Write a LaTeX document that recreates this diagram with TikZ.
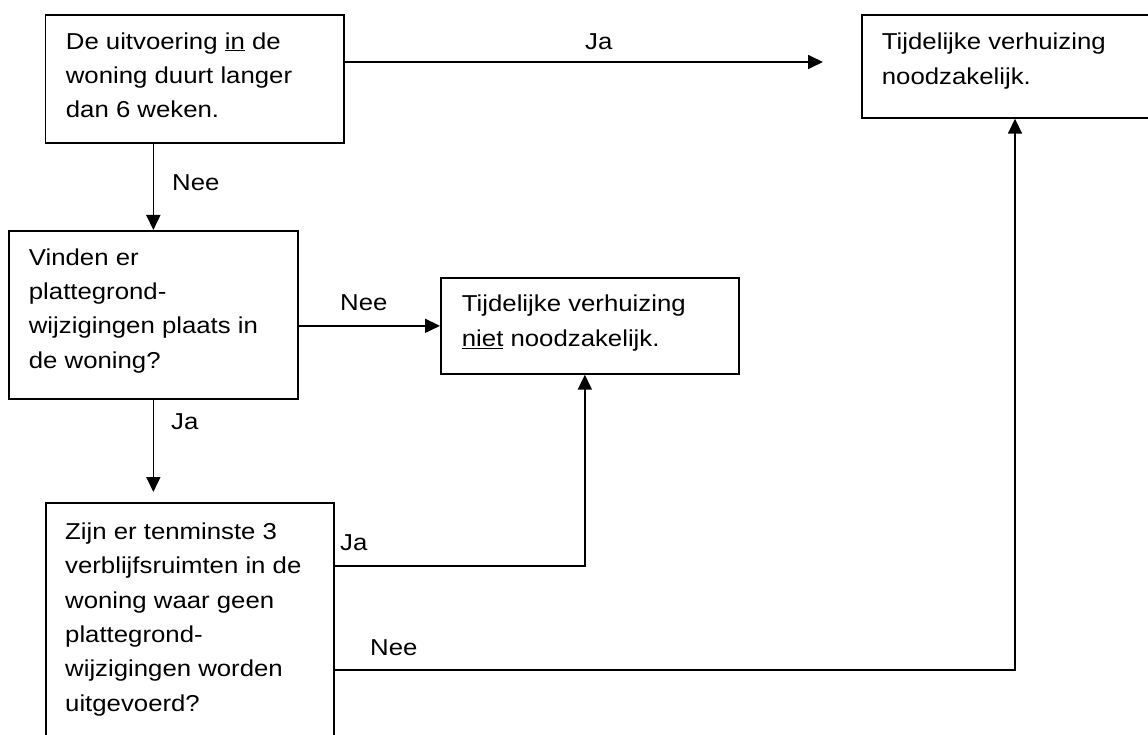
\documentclass[tikz,border=0pt]{standalone}
\usepackage{fontspec}
\setmainfont{Liberation Sans}[FakeStretch=1.12]
\usetikzlibrary{arrows.meta,calc}
\tikzset{
  box/.style={draw, line width=1.7pt, rectangle, inner sep=0pt, anchor=north west},
  txt/.style={inner sep=0pt, anchor=north west, align=left, font=\fontsize{23}{34.3}\selectfont},
  lbl/.style={inner sep=0pt, anchor=west, font=\fontsize{23}{34.3}\selectfont},
  arr/.style={line width=1.7pt, -{Triangle[width=14pt,length=15pt]}},
  con/.style={line width=1.7pt}
}
\begin{document}
\begin{tikzpicture}[x=1pt,y=-1pt]
\clip (0,0) rectangle (1148,735);
\fill[white] (0,0) rectangle (1148,735);
% boxes
\node[box, minimum width=298.3pt, minimum height=128pt] (b1) at (44.7,14) {};
\node[box, minimum width=300pt, minimum height=103pt] (b2) at (861,14) {};
\node[box, minimum width=289pt, minimum height=168pt] (b3) at (8,230) {};
\node[box, minimum width=298pt, minimum height=96pt] (b4) at (440,277) {};
\node[box, minimum width=288pt, minimum height=245pt] (b5) at (45,502) {};
% texts
\node[txt] (t1) at (65.7,32.3) {De uitvoering \underline{in} de\\woning duurt langer\\dan 6 weken.};
\node[txt] (t2) at (881.7,33) {Tijdelijke verhuizing\\noodzakelijk.};
\node[txt] (t3) at (28.7,248.3) {Vinden er\\plattegrond-\\wijzigingen plaats in\\de woning?};
\node[txt] (t4) at (461.7,295) {Tijdelijke verhuizing\\\underline{niet} noodzakelijk.};
\node[txt] (t5) at (65,522.7) {Zijn er tenminste 3\\verblijfsruimten in de\\woning waar geen\\plattegrond-\\wijzigingen worden\\uitgevoerd?};
% helper coordinates
\coordinate (p1) at ($(b1.north east)+(0,48)$);
\coordinate (p5a) at ($(b5.north east)+(0,64)$);
\coordinate (p5b) at ($(b5.north east)+(0,168)$);
\coordinate (p4) at ($(b4.south)+(-5,0)$);
\coordinate (p2) at ($(b2.south west)+(154,0)$);
% connectors
\draw[arr, shorten >=38pt] (p1) -- (p1 -| b2.west);
\draw[arr] (b3.north |- b1.south) -- (b3.north);
\draw[arr] (b4.west -| b3.east) -- (b4.west);
\draw[arr, shorten >=10pt] (b3.south) -- (b3.south |- b5.north);
\draw[arr] (p5a) -| (p4);
\draw[arr] (p5b) -| (p2);
% labels
\node[lbl] (l1) at (585,42) {Ja};
\node[lbl] (l2) at (172,183) {Nee};
\node[lbl] (l3) at (340,303) {Nee};
\node[lbl] (l4) at (171,422) {Ja};
\node[lbl] (l5) at (340,543) {Ja};
\node[lbl] (l6) at (370,648) {Nee};
\end{tikzpicture}
\end{document}
